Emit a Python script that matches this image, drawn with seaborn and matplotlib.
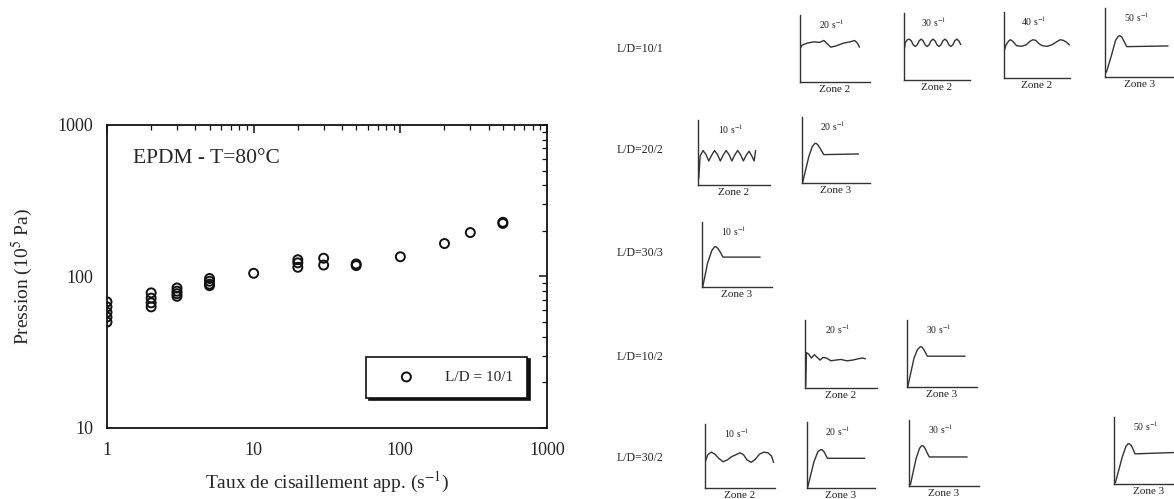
import matplotlib
matplotlib.use("Agg")
import matplotlib.pyplot as plt
import seaborn as sns
import pandas as pd

# ---- left chart: pressure vs apparent shear rate ----
shear_rate = [1, 1, 1, 1, 1, 2, 2, 2, 2, 3, 3, 3, 3, 5, 5, 5, 5, 10,
              20, 20, 20, 30, 30, 50, 50, 100, 200, 300, 500, 500]
pressure = [68, 63, 58, 54, 50, 78, 72, 67, 63, 84, 80, 77, 74, 97, 93, 89, 87, 105,
            129, 123, 115, 132, 119, 121, 118, 135, 165, 195, 228, 224]
series_label = "L/D = 10/1"
x_ticks = [1, 10, 100, 1000]
y_ticks = [10, 100, 1000]

# ---- right side: sketches of the pressure signal ----
ratio_labels = ["L/D=10/1", "L/D=20/2", "L/D=30/3", "L/D=10/2", "L/D=30/2"]
sketch_row = [0, 0, 0, 0, 1, 1, 2, 3, 3, 4, 4, 4, 4]
sketch_rate = [20, 30, 40, 50, 10, 20, 10, 20, 30, 10, 20, 30, 50]
sketch_zone = [2, 2, 2, 3, 2, 3, 3, 2, 3, 2, 3, 3, 3]

t_a = [0, 0.03, 0.1, 0.2, 0.28, 0.34, 0.4, 0.44, 0.52, 0.62, 0.72, 0.78, 0.82, 0.85]
p_a = [0.5, 0.55, 0.58, 0.6, 0.59, 0.62, 0.56, 0.52, 0.54, 0.58, 0.6, 0.62, 0.58, 0.52]
t_b = [0, 0.02, 0.05, 0.08, 0.11, 0.14, 0.17, 0.2, 0.23, 0.26, 0.29, 0.32, 0.35, 0.38, 0.41,
       0.44, 0.47, 0.5, 0.53, 0.56, 0.59, 0.62, 0.65, 0.68, 0.71, 0.74, 0.77, 0.8, 0.83, 0.86]
p_b = [0.42, 0.56, 0.6, 0.61, 0.585, 0.525, 0.5, 0.525, 0.585, 0.61, 0.585, 0.525, 0.5, 0.525, 0.585,
       0.61, 0.585, 0.525, 0.5, 0.525, 0.585, 0.61, 0.585, 0.525, 0.5, 0.525, 0.585, 0.61, 0.585, 0.53]
t_c = [0, 0.03, 0.07, 0.1, 0.14, 0.19, 0.26, 0.33, 0.4, 0.44, 0.48, 0.53, 0.58, 0.65, 0.72,
       0.8, 0.85, 0.9, 0.95, 0.99]
p_c = [0.4, 0.5, 0.56, 0.58, 0.55, 0.49, 0.48, 0.5, 0.56, 0.58, 0.57, 0.52, 0.49, 0.48, 0.5,
       0.55, 0.58, 0.57, 0.54, 0.5]
t_d = [0.02, 0.1, 0.15, 0.19, 0.21, 0.24, 0.27, 0.31, 0.9]
p_d = [0.07, 0.34, 0.53, 0.59, 0.6, 0.58, 0.52, 0.44, 0.45]
t_e = [0.01, 0.03, 0.07, 0.11, 0.15, 0.19, 0.23, 0.27, 0.31, 0.35, 0.39, 0.43, 0.47, 0.51,
       0.55, 0.59, 0.63, 0.67, 0.71, 0.75, 0.78, 0.8]
p_e = [0.1, 0.45, 0.53, 0.47, 0.37, 0.46, 0.53, 0.47, 0.37, 0.46, 0.53, 0.47, 0.37, 0.46,
       0.53, 0.47, 0.37, 0.46, 0.52, 0.44, 0.37, 0.53]
t_f = [0.01, 0.1, 0.15, 0.19, 0.21, 0.24, 0.28, 0.32, 0.83]
p_f = [0.01, 0.4, 0.55, 0.6, 0.6, 0.57, 0.5, 0.43, 0.44]
t_g = [0.01, 0.08, 0.14, 0.18, 0.2, 0.23, 0.27, 0.3, 0.83]
p_g = [0.0, 0.37, 0.56, 0.62, 0.62, 0.59, 0.52, 0.46, 0.46]
t_h = [0.01, 0.02, 0.05, 0.09, 0.13, 0.17, 0.21, 0.25, 0.3, 0.36, 0.42, 0.5, 0.58, 0.66,
       0.74, 0.8, 0.84]
p_h = [0.02, 0.52, 0.5, 0.44, 0.49, 0.45, 0.41, 0.45, 0.44, 0.4, 0.41, 0.42, 0.4, 0.41,
       0.43, 0.44, 0.43]
t_i = [0.01, 0.1, 0.15, 0.19, 0.21, 0.24, 0.27, 0.29, 0.83]
p_i = [0.0, 0.43, 0.56, 0.6, 0.6, 0.56, 0.5, 0.46, 0.46]
t_j = [0, 0.04, 0.09, 0.14, 0.2, 0.26, 0.32, 0.38, 0.44, 0.5, 0.55, 0.6, 0.66, 0.72, 0.78,
       0.84, 0.9, 0.95, 0.98]
p_j = [0.4, 0.52, 0.56, 0.53, 0.46, 0.41, 0.44, 0.49, 0.52, 0.55, 0.52, 0.44, 0.4, 0.45, 0.53,
       0.56, 0.55, 0.5, 0.4]
t_k = [0.01, 0.1, 0.16, 0.2, 0.22, 0.25, 0.28, 0.3, 0.85]
p_k = [0.01, 0.39, 0.55, 0.58, 0.58, 0.55, 0.49, 0.45, 0.45]
t_l = [0.02, 0.1, 0.15, 0.18, 0.2, 0.23, 0.26, 0.29, 0.83]
p_l = [0.02, 0.41, 0.57, 0.61, 0.61, 0.57, 0.5, 0.44, 0.44]
t_m = [0.02, 0.12, 0.17, 0.2, 0.22, 0.25, 0.28, 0.3, 0.87]
p_m = [0.02, 0.41, 0.56, 0.6, 0.6, 0.57, 0.5, 0.45, 0.47]

traces = [(t_a, p_a), (t_b, p_b), (t_c, p_c), (t_d, p_d), (t_e, p_e), (t_f, p_f), (t_g, p_g),
          (t_h, p_h), (t_i, p_i), (t_j, p_j), (t_k, p_k), (t_l, p_l), (t_m, p_m)]

# layout, in pixels of the 1174x499 picture: x of the vertical line, y of the base line, w, h
W, H = 1174, 499
panel_px = [(800, 82, 70, 67), (904, 80, 66, 67), (1004, 78, 66, 66), (1105, 77, 70, 69),
            (698, 185, 72, 65), (802, 183, 68, 66),
            (702, 287, 70, 65),
            (805, 388, 72, 68), (907, 387, 70, 67),
            (705, 488, 70, 64), (807, 488, 68, 66), (909, 486, 70, 66), (1114, 484, 70, 67)]
row_label_y = [49, 150, 253, 357, 458]

sns.set_style("white")
plt.rcParams["font.family"] = ["Liberation Serif", "DejaVu Serif"]
plt.rcParams["mathtext.fontset"] = "stix"

fig = plt.figure(figsize=(W / 100, H / 100), dpi=100)

# ---- main log-log chart ----
ax = fig.add_axes([107 / W, (H - 428) / H, 440 / W, 303 / H])
df = pd.DataFrame({"rate": shear_rate, "p": pressure})
sns.scatterplot(data=df, x="rate", y="p", ax=ax, marker="o", s=42,
                facecolors="none", edgecolor="#111111", linewidth=1.4, label=series_label)
ax.set_xscale("log")
ax.set_yscale("log")
ax.set_xlim(1, 1000)
ax.set_ylim(10, 1000)
ax.set_xticks(x_ticks)
ax.set_xticklabels([str(v) for v in x_ticks])
ax.set_yticks(y_ticks)
ax.set_yticklabels([str(v) for v in y_ticks])
ax.tick_params(which="both", direction="in", top=True, right=True, color="#111111")
ax.tick_params(which="major", length=6, width=1.1, labelsize=13)
ax.tick_params(which="minor", length=3.5, width=0.9)
ax.tick_params(axis="x", which="major", pad=10)
ax.tick_params(axis="y", which="major", pad=10)
for sp in ax.spines.values():
    sp.set_linewidth(1.3)
    sp.set_color("#111111")
ax.set_xlabel("Taux de cisaillement app. (s$^{-1}$)", fontsize=14, labelpad=8)
ax.set_ylabel("Pression (10$^{5}$ Pa)", fontsize=14, labelpad=16)
ax.text(0.059, 0.89, "EPDM - T=80°C", transform=ax.transAxes, fontsize=15.5, va="center")
leg = ax.legend(loc="lower right", bbox_to_anchor=(0.955, 0.1), borderaxespad=0,
                frameon=True, fancybox=False, edgecolor="#111111",
                shadow={"color": "#111111", "alpha": 1}, fontsize=11,
                handlelength=3.5, handletextpad=0.8, borderpad=0.9)
leg.get_frame().set_linewidth(1.2)

# ---- sketches on the right ----
for lbl, yy in zip(ratio_labels, row_label_y):
    fig.text(617 / W, 1 - yy / H, lbl, ha="left", va="center", fontsize=8.5, color="#222222")

for (x0, y0, w, h), (tt, pp), rate, zone in zip(panel_px, traces, sketch_rate, sketch_zone):
    pax = fig.add_axes([x0 / W, (H - y0) / H, w / W, h / H])
    sns.lineplot(x=tt, y=pp, ax=pax, color="#333333", linewidth=1.0, sort=False, estimator=None)
    pax.set_xlim(0, 1)
    pax.set_ylim(0, 1)
    pax.set_xticks([])
    pax.set_yticks([])
    pax.set_xlabel("")
    pax.set_ylabel("")
    pax.patch.set_alpha(0)
    for side in ["top", "right"]:
        pax.spines[side].set_visible(False)
    for side in ["left", "bottom"]:
        pax.spines[side].set_linewidth(1.0)
        pax.spines[side].set_color("#333333")
    pax.text(0.45, 0.86, f"{rate} s$^{{-1}}$", transform=pax.transAxes, ha="center",
             va="center", fontsize=7, color="#222222")
    pax.text(0.5, -0.04, f"Zone {zone}", transform=pax.transAxes, ha="center",
             va="top", fontsize=8, color="#222222")

fig.savefig("out.png", dpi=100)
